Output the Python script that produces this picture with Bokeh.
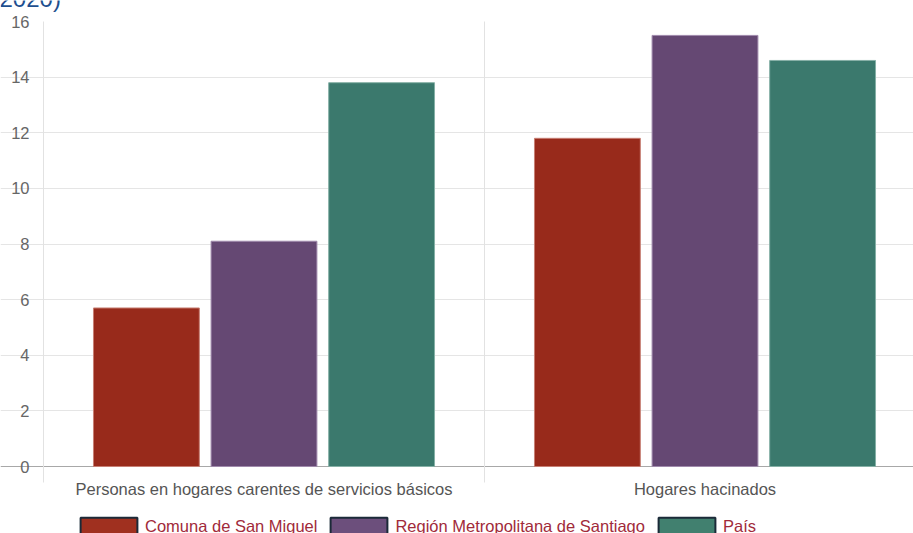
from bokeh.plotting import figure
from bokeh.models import (Range1d, FixedTicker, Legend, LegendItem, Label,
                          LabelSet, ColumnDataSource, Grid)
from bokeh.core.properties import value
from bokeh.embed import file_html
from bokeh.resources import INLINE

categories = ["Personas en hogares carentes de servicios básicos", "Hogares hacinados"]
series = ["Comuna de San Miguel", "Región Metropolitana de Santiago", "País"]
san_miguel = [5.7, 11.8]
region_metropolitana = [8.1, 15.5]
pais = [13.8, 14.6]
y_ticks = [0, 2, 4, 6, 8, 10, 12, 14, 16]
title_tail = "(2020)"

values = [san_miguel, region_metropolitana, pais]
fill_colors = ["#982a1b", "#654873", "#3b796d"]
edge_colors = ["#c77f74", "#a08aac", "#86b0a6"]
legend_fills = ["#a0301f", "#6c4f7c", "#41806f"]

FONT = "Liberation Sans"
FS = "16.5px"

PX = 445 / 16           # pixels per unit on the y scale
CW = 441                # pixels per category on the x scale
Y_TOP = 16 + 21 / PX
Y_BOT = -67 / PX
X_LEFT = -43 / CW
X_RIGHT = 870 / CW

p = figure(width=913, height=533, output_backend="svg", toolbar_location=None,
           x_range=Range1d(X_LEFT, X_RIGHT), y_range=Range1d(Y_BOT, Y_TOP),
           min_border=0, x_axis_type=None, y_axis_type=None)
p.outline_line_color = None
p.background_fill_color = "white"
p.border_fill_color = "white"
p.xgrid.visible = False
p.ygrid.visible = False

tick_len_x = 11 / CW
# vertical lines at category boundaries (incl. the y axis line), extending below 0
bounds_x = list(range(len(categories) + 1))
p.segment(x0=bounds_x, y0=[-16 / PX] * len(bounds_x), x1=bounds_x,
          y1=[y_ticks[-1]] * len(bounds_x), line_color="#e2e2e2", line_width=1)
# horizontal grid lines with tick extensions to the left
p.add_layout(Grid(dimension=1, ticker=FixedTicker(ticks=y_ticks[1:-1]),
                  bounds=(-tick_len_x, X_RIGHT), grid_line_color="#e5e5e5"))

slot = 0.8 / 3
bw = slot * 0.9
for j, vals in enumerate(values):
    xs = [i + 0.5 + (j - 1) * slot for i in range(len(categories))]
    src = ColumnDataSource(dict(x=xs, top=vals))
    p.vbar(x="x", top="top", width=bw, bottom=0, source=src,
           fill_color=fill_colors[j], line_color=edge_colors[j], line_width=1)

# zero line
p.add_layout(Grid(dimension=1, ticker=FixedTicker(ticks=[0]),
                  bounds=(-tick_len_x, X_RIGHT), grid_line_color="#a8a8a8"))

# y tick labels
ysrc = ColumnDataSource(dict(x=[-14 / CW] * len(y_ticks), y=y_ticks,
                             text=[str(t) for t in y_ticks]))
p.add_layout(LabelSet(x="x", y="y", text="text", source=ysrc, text_align="right",
                      text_baseline="middle", text_font=value(FONT),
                      text_font_size=value(FS), text_color="#666666"))

# category labels under the bars
centers = [i + 0.5 for i in range(len(categories))]
cat_src = ColumnDataSource(dict(x=centers, y=[-22 / PX] * len(categories), text=categories))
p.add_layout(LabelSet(x="x", y="y", text="text", source=cat_src, text_align="center",
                      text_baseline="middle", text_font=value(FONT),
                      text_font_size=value(FS), text_color="#555555"))

# legend with hidden dummy renderers (no inactive overlay)
items = []
for j, name in enumerate(series):
    r = p.vbar(x=[-1000], top=[-1000], bottom=[-1000], width=0, fill_color=legend_fills[j],
               line_color="#1b2a38", line_width=2, visible=False)
    items.append(LegendItem(label=name, renderers=[r]))
legend = Legend(items=items, orientation="horizontal", location=(73, -4),
                glyph_width=71, glyph_height=22, label_height=22, label_standoff=1,
                spacing=6, padding=0, margin=0, border_line_color=None,
                background_fill_alpha=0, label_text_font=FONT, label_text_font_size=FS,
                label_text_color="#a12a3a", inactive_fill_alpha=0)
p.add_layout(legend, "center")

# cut-off title
p.add_layout(Label(x=-52 / CW, y=16 + 23 / PX, text=title_tail, text_font=FONT,
                   text_font_size="24px", text_color="#1e4f8f",
                   text_baseline="alphabetic"))

open("out.html", "w").write(file_html(p, INLINE))
